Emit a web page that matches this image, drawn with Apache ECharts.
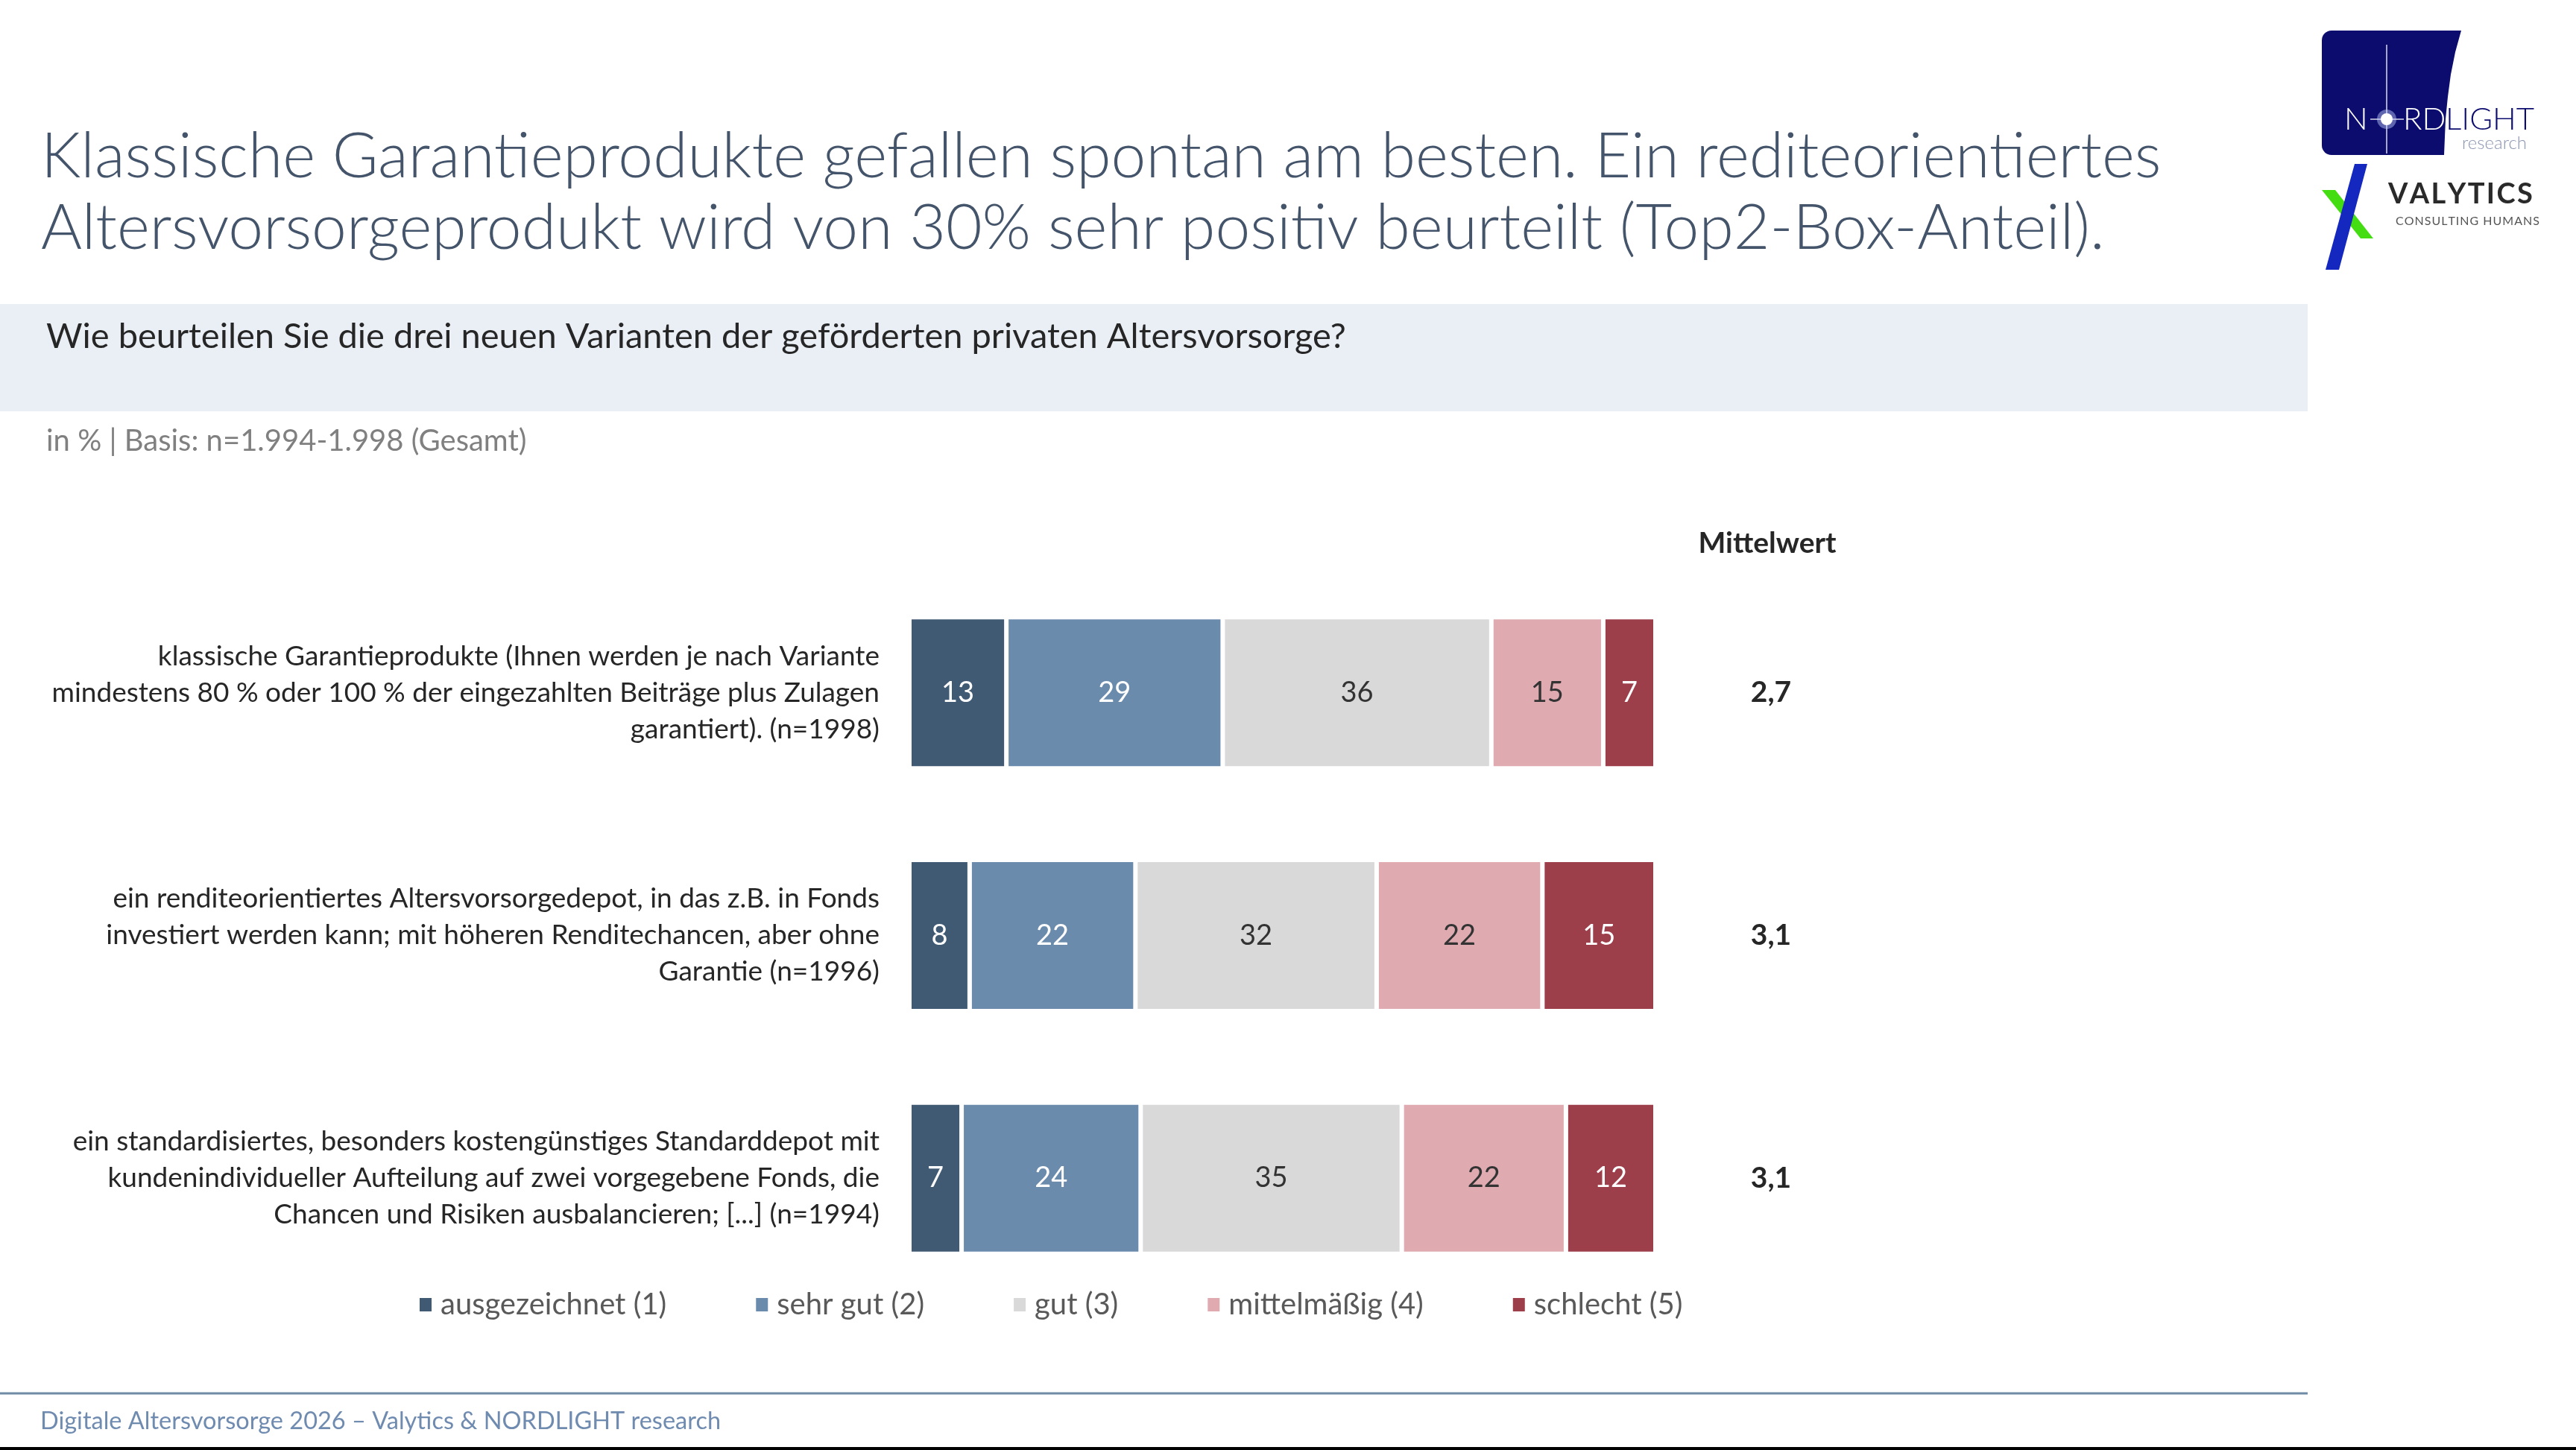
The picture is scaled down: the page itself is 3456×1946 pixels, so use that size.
<!DOCTYPE html>
<html>
<head>
<meta charset="utf-8">
<title>Altersvorsorge Varianten</title>
<script src="https://cdn.jsdelivr.net/npm/echarts@6/dist/echarts.min.js"></script>
<style>
  html, body { margin: 0; padding: 0; background: #fff; }
  #chart { width: 3456px; height: 1946px; }
</style>
</head>
<body>
<div id="chart"></div>
<script>
// Kategorien (Zeilenumbrüche wie im Original)
var categories = [
  'klassische Garantieprodukte (Ihnen werden je nach Variante\nmindestens 80 % oder 100 % der eingezahlten Beiträge plus Zulagen\ngarantiert). (n=1998)',
  'ein renditeorientiertes Altersvorsorgedepot, in das z.B. in Fonds\ninvestiert werden kann; mit höheren Renditechancen, aber ohne\nGarantie (n=1996)',
  'ein standardisiertes, besonders kostengünstiges Standarddepot mit\nkundenindividueller Aufteilung auf zwei vorgegebene Fonds, die\nChancen und Risiken ausbalancieren; [...] (n=1994)'
];

var seriesNames = ['ausgezeichnet (1)', 'sehr gut (2)', 'gut (3)', 'mittelmäßig (4)', 'schlecht (5)'];
var seriesColors = ['#405A73', '#6B8BAD', '#D9D9D9', '#DFABB1', '#9D3E4B'];
var labelColors = ['#ffffff', '#ffffff', '#333333', '#333333', '#ffffff'];

// Werte in %
var ausgezeichnet = [13, 8, 7];
var sehrGut = [29, 22, 24];
var gut = [36, 32, 35];
var mittelmaessig = [15, 22, 22];
var schlecht = [7, 15, 12];

var mittelwerte = ['2,7', '3,1', '3,1'];

var allValues = [ausgezeichnet, sehrGut, gut, mittelmaessig, schlecht];

var FONT = 'Lato, "Open Sans", sans-serif';
var HAIR = '\u200A';

// Zeilensummen, damit jeder Balken 100 % breit ist
var rowTotals = categories.map(function (c, i) {
  var s = 0;
  allValues.forEach(function (arr) { s += arr[i]; });
  return s;
});

var series = allValues.map(function (arr, k) {
  return {
    name: seriesNames[k],
    type: 'bar',
    stack: 'total',
    barWidth: 203,
    itemStyle: {
      color: seriesColors[k],
      borderColor: '#ffffff',
      borderWidth: 3
    },
    label: {
      show: true,
      position: 'inside',
      color: labelColors[k],
      fontFamily: FONT,
      fontSize: 38,
      formatter: function (p) { return p.data.raw; }
    },
    emphasis: { disabled: true },
    data: arr.map(function (v, i) {
      return { value: v / rowTotals[i] * 100, raw: v };
    })
  };
});

function txt(x, y, text, size, fill, extra) {
  var style = { text: text, fontFamily: FONT, fontSize: size, fill: fill, align: 'left', verticalAlign: 'middle' };
  for (var k in (extra || {})) style[k] = extra[k];
  return { type: 'text', x: x, y: y, style: style };
}

function spaced(s) {
  return s.split('').join(HAIR);
}

var chart = echarts.init(document.getElementById('chart'));

var option = {
  backgroundColor: '#ffffff',
  animation: false,
  legend: {
    data: seriesNames,
    left: 556,
    top: 1726,
    icon: 'rect',
    itemWidth: 18,
    itemHeight: 20,
    itemGap: 118,
    selectedMode: false,
    textStyle: {
      fontFamily: FONT,
      fontSize: 40,
      color: '#595959',
      padding: [0, 0, 0, 6]
    }
  },
  grid: {
    left: 1220,
    right: 3456 - 2221,
    top: 767,
    bottom: 1946 - 1744
  },
  xAxis: {
    type: 'value',
    min: 0,
    max: 100,
    show: false
  },
  yAxis: [{
    type: 'category',
    inverse: true,
    data: categories,
    axisLine: { show: false },
    axisTick: { show: false },
    axisLabel: {
      margin: 40,
      align: 'right',
      fontFamily: FONT,
      fontSize: 37,
      lineHeight: 49,
      color: '#262626'
    }
  }, {
    type: 'category',
    inverse: true,
    position: 'right',
    data: mittelwerte,
    axisLine: { show: false },
    axisTick: { show: false },
    axisLabel: {
      margin: 155,
      align: 'center',
      fontFamily: FONT,
      fontSize: 39,
      fontWeight: 'bold',
      color: '#262626'
    }
  }],
  series: series,
  graphic: [
    // Titel
    txt(55, 211, 'Klassische Garantieprodukte gefallen spontan am besten. Ein rediteorientiertes', 84, '#44546A', { fontWeight: 300 }),
    txt(55, 307, 'Altersvorsorgeprodukt wird von 30% sehr positiv beurteilt (Top2-Box-Anteil).', 84, '#44546A', { fontWeight: 300 }),
    // Frage-Band
    { type: 'rect', shape: { x: 0, y: 408, width: 3096, height: 144 }, style: { fill: '#EAEFF6' }, z: -1 },
    txt(62, 452, 'Wie beurteilen Sie die drei neuen Varianten der geförderten privaten Altersvorsorge?', 47, '#262626'),
    // Basis
    txt(62, 592, 'in % | Basis: n=1.994-1.998 (Gesamt)', 40, '#808080'),
    // Spaltenkopf
    txt(2371, 729, 'Mittelwert', 39, '#262626', { fontWeight: 'bold', align: 'center' }),
    // Fußzeile
    { type: 'line', shape: { x1: 0, y1: 1870, x2: 3096, y2: 1870 }, style: { stroke: '#6F8BA6', lineWidth: 3 } },
    txt(54, 1908, 'Digitale Altersvorsorge 2026 – Valytics & NORDLIGHT research', 32.5, '#6F8BB0'),
    { type: 'rect', shape: { x: 0, y: 1942, width: 3456, height: 4 }, style: { fill: '#000000' } },

    // Logo NORDLIGHT
    { type: 'rect', shape: { x: 3115, y: 41, width: 125, height: 167, r: [13, 0, 0, 13] }, style: { fill: '#0B0C6E' } },
    { type: 'polygon', shape: { points: [[3238, 41], [3302, 41], [3294, 70], [3288, 100], [3284, 130], [3281, 160], [3279, 208], [3238, 208]] }, style: { fill: '#0B0C6E' } },
    { type: 'line', shape: { x1: 3202, y1: 60, x2: 3202, y2: 206 }, style: { stroke: 'rgba(255,255,255,0.85)', lineWidth: 1.5 } },
    { type: 'line', shape: { x1: 3180, y1: 160, x2: 3225, y2: 160 }, style: { stroke: 'rgba(255,255,255,0.85)', lineWidth: 1.5 } },
    { type: 'circle', shape: { cx: 3202, cy: 160, r: 13 }, style: { fill: 'rgba(200,210,255,0.45)' } },
    { type: 'circle', shape: { cx: 3202, cy: 160, r: 8 }, style: { fill: '#ffffff' } },
    txt(3145, 160, 'N', 42, '#ffffff', { fontWeight: 300 }),
    txt(3224, 160, 'RD', 42, '#ffffff', { fontWeight: 300 }),
    txt(3281, 160, 'LIGHT', 42, '#0B0C6E', { fontWeight: 300 }),
    txt(3390, 192, 'research', 24, '#8A95B0', { fontWeight: 300, align: 'right' }),

    // Logo VALYTICS
    { type: 'polygon', shape: { points: [[3115, 255], [3133, 255], [3184, 320], [3167, 320]] }, style: { fill: '#44DD11' } },
    { type: 'polygon', shape: { points: [[3159, 220], [3176, 220], [3138, 362], [3120, 362]] }, style: { fill: '#1428C0' } },
    txt(3204, 261, spaced('VALYTICS'), 38, '#2A2A2A', { fontWeight: 'bold' }),
    txt(3214, 297, spaced('CONSULTING HUMANS'), 16, '#555555')
  ]
};

chart.setOption(option);
</script>
</body>
</html>
